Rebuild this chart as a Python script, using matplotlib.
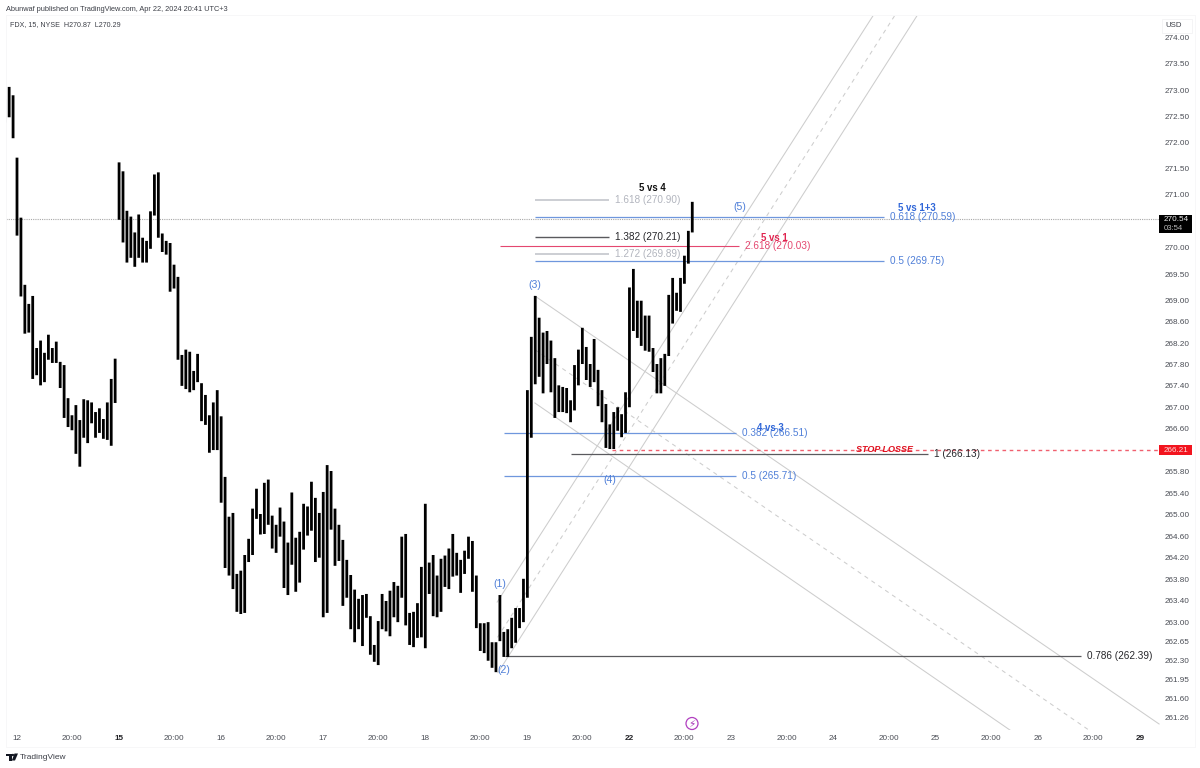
import matplotlib
matplotlib.use("Agg")
import matplotlib.pyplot as plt
from matplotlib.patches import Rectangle, Polygon, Circle
from matplotlib.ticker import NullFormatter, NullLocator

plt.rcParams['font.family'] = ['Liberation Sans', 'DejaVu Sans']

# FDX 15-minute session ranges; bar index 0 is the first bar of Friday the 12th
first_bar = -3
highs = [
    272.82, 273.06, 272.90,
    271.71, 270.57, 269.30, 268.94, 269.09, 268.11, 268.25, 268.02, 268.36, 268.11,
    268.23, 267.85, 267.79, 267.17, 266.85, 267.04, 266.76, 267.15, 267.13, 267.09,
    266.91, 266.98, 266.78, 267.09, 267.53, 267.91,
    271.62, 271.45, 270.70, 270.59, 270.29, 270.63, 270.19, 270.13, 270.69, 271.39,
    271.43, 270.27, 270.13, 270.09, 269.68, 269.45, 267.98, 268.08, 268.04, 267.68,
    268.00, 267.45, 267.23, 266.85, 267.09, 267.32,
    266.83, 265.70, 264.96, 265.03, 263.90, 263.96, 264.25, 264.55, 265.11, 265.48,
    265.01, 265.59, 265.65, 264.98, 264.81, 265.13, 264.87, 264.48, 265.41, 264.57,
    264.68, 265.20, 265.15, 265.61, 265.31, 265.03,
    265.42, 265.92, 265.81, 265.11, 264.81, 264.53, 264.16, 263.88, 263.61, 263.44,
    263.51, 263.53, 263.12, 262.59, 263.03, 263.53, 263.40, 263.59, 263.75, 263.68,
    264.59, 264.64,
    263.18, 263.20, 263.36, 264.03, 265.20, 264.11, 264.25, 263.87, 264.18, 264.24,
    264.37, 264.64, 264.29, 264.16, 264.33, 264.59, 264.51, 263.87, 262.99, 262.99,
    263.01, 262.64, 262.64, 263.51, 262.83, 262.88,
    263.09, 263.27, 263.27, 263.81, 267.32, 268.32, 269.09, 268.68, 268.40, 268.43,
    268.25, 267.92, 267.41, 267.38, 267.36, 267.13, 267.79, 268.08, 268.49, 268.13,
    267.81, 268.28, 267.70, 267.32, 267.06, 266.68, 266.91, 267.00, 266.87, 267.28,
    269.25, 269.60, 269.00, 269.00, 268.72, 268.72, 268.11, 267.81, 267.92, 268.00,
    269.11, 269.43, 269.15, 269.43, 269.85, 270.32, 270.87,
]
lows = [
    272.38, 272.48, 272.08,
    270.23, 269.08, 268.38, 268.40, 267.53, 267.60, 267.41, 267.47, 267.89, 267.83,
    267.83, 267.36, 266.80, 266.63, 266.57, 266.13, 265.89, 266.43, 266.33, 266.70,
    266.43, 266.52, 266.41, 266.39, 266.28, 267.08,
    270.53, 270.10, 269.72, 269.81, 269.64, 269.81, 269.72, 269.72, 269.98, 270.61,
    270.19, 269.92, 269.87, 269.17, 269.23, 267.89, 267.40, 267.34, 267.28, 267.32,
    267.47, 266.74, 266.67, 266.15, 266.20, 266.20,
    265.22, 264.01, 263.87, 263.62, 263.20, 263.16, 263.18, 264.12, 264.25, 264.92,
    264.63, 264.64, 264.81, 264.37, 264.29, 264.59, 263.64, 263.51, 264.07, 263.57,
    263.74, 264.35, 264.61, 264.70, 264.12, 264.20,
    263.10, 263.18, 264.72, 264.05, 264.14, 263.31, 263.46, 262.88, 262.64, 262.88,
    262.57, 263.09, 262.41, 262.28, 262.22, 262.88, 262.84, 262.75, 263.10, 263.01,
    263.46, 262.95,
    262.59, 262.55, 262.72, 262.73, 262.53, 263.53, 263.12, 263.10, 263.20, 263.66,
    263.62, 263.85, 263.87, 263.55, 263.90, 264.18, 263.57, 262.90, 262.48, 262.44,
    262.30, 262.17, 262.09, 262.66, 262.37, 262.37,
    262.53, 262.63, 262.90, 263.01, 263.46, 266.43, 267.43, 267.57, 267.26, 267.81,
    267.28, 266.80, 266.91, 266.91, 266.89, 266.72, 266.94, 267.41, 267.81, 267.51,
    267.38, 267.47, 267.02, 266.72, 266.24, 266.22, 266.22, 266.56, 266.44, 266.52,
    267.00, 268.43, 268.30, 268.15, 268.06, 268.04, 267.66, 267.26, 267.26, 267.40,
    267.96, 268.57, 268.81, 268.79, 269.32, 269.70, 270.29,
]

# Price axis
price_ticks = [274.00, 273.50, 273.00, 272.50, 272.00, 271.50, 271.00, 270.00, 269.50,
               269.00, 268.60, 268.20, 267.80, 267.40, 267.00, 266.60, 265.80, 265.40,
               265.00, 264.60, 264.20, 263.80, 263.40, 263.00, 262.65, 262.30, 261.95,
               261.60, 261.26]

# Time axis
time_ticks = [0, 14, 26, 40, 52, 66, 78, 92, 104, 118, 130, 144, 156, 170, 182, 196,
              208, 222, 234, 248, 260, 274, 286]
time_labels = ['12', '20:00', '15', '20:00', '16', '20:00', '17', '20:00', '18', '20:00',
               '19', '20:00', '22', '20:00', '23', '20:00', '24', '20:00', '25', '20:00',
               '26', '20:00', '29']
bold_labels = ['15', '22', '29']

# Fibonacci levels: label, price, first bar, last bar, line colour, text colour, line width
GREY, DARK, BLUE, PINK = '#c4c6cc', '#5a5a5e', '#6f97dd', '#e4476f'
fib_names = ['1.618', '0.618', '1.382', '2.618', '1.272', '0.5', '0.382', '1', '0.5', '0.786']
fib_prices = [270.90, 270.59, 270.21, 270.03, 269.89, 269.75, 266.51, 266.13, 265.71, 262.39]
fib_starts = [131.9, 131.9, 131.9, 123.0, 131.9, 131.9, 124.0, 141.1, 124.0, 124.3]
fib_ends = [150.8, 220.8, 150.8, 183.9, 150.8, 220.8, 183.1, 232.0, 183.1, 271.0]
fib_line_colors = [GREY, BLUE, DARK, PINK, GREY, BLUE, BLUE, DARK, BLUE, DARK]
fib_text_colors = ['#b2b5be', '#4f7fd8', '#26262a', '#e4476f', '#b2b5be', '#4f7fd8',
                   '#4f7fd8', '#26262a', '#4f7fd8', '#26262a']
fib_widths = [1.2, 0.9, 1.0, 0.8, 1.2, 0.9, 0.9, 0.9, 0.9, 0.9]

# Rising channel (wave 1-2 base) and falling channel (wave 3 base)
rise_x = [(122.3, 218.0), (122.4, 223.5), (122.5, 229.2)]
rise_y = [(263.38, 274.42), (262.73, 274.42), (262.08, 274.42)]
fall_x = [(131.9, 290.9), (131.9, 273.0), (131.9, 252.9)]
fall_y = [(269.09, 261.14), (268.08, 261.03), (267.08, 261.03)]
channel_styles = ['-', (0, (4, 4)), '-']

# Elliott wave marks: label, bar, price
wave_names = ['(1)', '(2)', '(3)', '(4)', '(5)']
wave_bars = [123.0, 124.0, 132.0, 151.0, 184.0]
wave_prices = [263.72, 262.13, 269.30, 265.65, 270.78]

# Comparison headings: label, bar, price, colour
head_names = ['5 vs 4', '5 vs 1', '5 vs 1+3', '4 vs 3']
head_bars = [161.8, 192.8, 229.3, 191.8]
head_prices = [271.14, 270.19, 270.75, 266.62]
head_colors = ['#111111', '#e0244f', '#2f66d8', '#2f66d8']

last_price = 270.54
stop_price = 266.21

fig = plt.figure(figsize=(12, 7.68), dpi=100, facecolor='white')
PANE_L, PANE_R, PANE_T, PANE_B = 6, 1160, 16, 730
ax = fig.add_axes([PANE_L / 1200, 1 - PANE_B / 768,
                   (PANE_R - PANE_L) / 1200, (PANE_B - PANE_T) / 768])
ax.set_yscale('log')
ax.set_xlim((PANE_L - 17) / 3.926, (PANE_R - 17) / 3.926)
ax.set_ylim(261.03, 274.42)
for side in ax.spines.values():
    side.set_visible(False)

# Hi-lo bars
bar_index = [first_bar + k for k in range(len(highs))]
bars = ax.vlines(bar_index, lows, highs, colors='black', linewidth=2.0, zorder=4, capstyle='butt')
bars.set_snap(False)

# Channels
for xs, ys, st in zip(rise_x + fall_x, rise_y + fall_y, channel_styles + channel_styles):
    ax.plot(xs, ys, color='#cdcdcd', lw=0.75, ls=st, zorder=2)

# Last price and stop
ax.axhline(last_price, color='#a8a8a8', lw=0.8, ls=(0, (1, 1)), zorder=1)
ax.plot([151.6, ax.get_xlim()[1]], [stop_price, stop_price], color='#f0606f', lw=1.0,
        ls=(0, (2.6, 2.6)), zorder=2)
ax.annotate('STOP LOSSE', (221.0, stop_price), color='#e0101f', fontsize=6.5,
            fontweight='bold', fontstyle='italic', ha='center', va='center', zorder=5)

# Fibonacci levels with value labels
for name, price, x0, x1, lc, tc, lw in zip(fib_names, fib_prices, fib_starts, fib_ends,
                                           fib_line_colors, fib_text_colors, fib_widths):
    ax.plot([x0, x1], [price, price], color=lc, lw=lw, zorder=3, solid_capstyle='butt')
    ax.annotate(f'{name} ({price:.2f})', (x1, price), xytext=(4.4, 0),
                textcoords='offset points', color=tc, fontsize=7.2, va='center', ha='left',
                zorder=5, annotation_clip=False)

for name, x, y in zip(wave_names, wave_bars, wave_prices):
    ax.text(x, y, name, color='#4f7fd8', fontsize=7.6, ha='center', va='center', zorder=5)

for name, x, y, c in zip(head_names, head_bars, head_prices, head_colors):
    ax.text(x, y, name, color=c, fontsize=6.9, fontweight='bold', ha='center', va='center',
            zorder=6)

# Axes furniture
ax.yaxis.tick_right()
ax.yaxis.set_minor_locator(NullLocator())
ax.yaxis.set_minor_formatter(NullFormatter())
ax.set_yticks(price_ticks)
ax.set_yticklabels([f'{p:.2f}' for p in price_ticks])
ax.tick_params(axis='y', length=0, pad=3, labelsize=5.9, labelcolor='#4a4d55')
ax.set_xticks(time_ticks)
ax.set_xticklabels(time_labels)
ax.tick_params(axis='x', length=0, pad=3.4, labelsize=5.9, labelcolor='#4a4d55')
for lab in ax.get_xticklabels():
    if lab.get_text() in bold_labels:
        lab.set_fontweight('bold')
        lab.set_color('#222226')

# Overlay in pixel units for chrome around the pane
ov = fig.add_axes([0, 0, 1, 1], facecolor='none')
ov.set_xlim(0, 1200)
ov.set_ylim(768, 0)
ov.axis('off')
border = '#f7f7f8'
ov.plot([5.5, 5.5], [15, 747], color=border, lw=0.7)
ov.plot([5.5, 1195], [15, 15], color=border, lw=0.7)
ov.plot([5.5, 1195], [747, 747], color=border, lw=0.7)
ov.plot([1195, 1195], [15, 747], color=border, lw=0.7)

ov.text(6, 9.3, 'Abunwaf published on TradingView.com, Apr 22, 2024 20:41 UTC+3',
        fontsize=5.35, color='#3c3f47', va='center', ha='left')
ov.text(10.5, 25, 'FDX, 15, NYSE  H270.87  L270.29', fontsize=5.15, color='#3c3f47',
        va='center', ha='left')
ov.add_patch(Rectangle((1161.5, 18.5), 30.5, 14, fc='white', ec='#f3f3f4', lw=0.6))
ov.text(1174, 25.3, 'USD', fontsize=5.6, color='#3c3f47', va='center', ha='center')

# Price tags on the scale
ov.add_patch(Rectangle((1159, 215), 32.5, 18, fc='black', ec='none', zorder=5))
ov.text(1164, 219.8, f'{last_price:.2f}', color='#f0f0f0', fontsize=5.9, va='center', zorder=6)
ov.text(1164, 228, '03:54', color='#b8b8b8', fontsize=5.6, va='center', zorder=6)
ov.add_patch(Rectangle((1159, 445), 32.5, 10, fc='#f2141e', ec='none', zorder=5))
ov.text(1164, 450.2, f'{stop_price:.2f}', color='#ffd8d8', fontsize=5.9, va='center', zorder=6)

# Lightning marker above the time axis
ov.add_patch(Circle((692, 723.5), 6.0, fc='white', ec='#b13fc0', lw=0.9, zorder=6))
ov.text(692, 723.5, '\u26a1', family=['DejaVu Sans'], color='#a52fb5', fontsize=7.5, ha='center',
        va='center', zorder=7)

# TradingView mark
ov.add_patch(Polygon([(6, 753.5), (11.5, 753.5), (11.5, 760.5), (9, 760.5), (9, 756), (6, 756)],
                     fc='#131722', ec='none'))
ov.add_patch(Circle((12.9, 755), 1.2, fc='#131722', ec='none'))
ov.add_patch(Polygon([(14.5, 753.5), (18, 753.5), (15, 760.5), (11.8, 760.5)], fc='#131722', ec='none'))
ov.text(20, 757.3, 'TradingView', fontsize=6.0, color='#3c3f47', va='center', ha='left')

fig.savefig('out.png', dpi=100, facecolor='white')
